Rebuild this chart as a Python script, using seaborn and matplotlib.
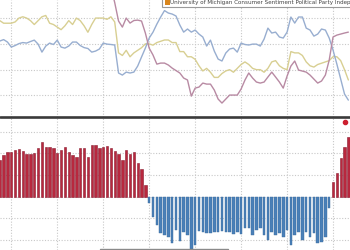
import numpy as np
import pandas as pd
import matplotlib
matplotlib.use("Agg")
import matplotlib.pyplot as plt
from matplotlib.patches import Rectangle
from matplotlib.lines import Line2D
import seaborn as sns

# ---------------- data (monthly index) ----------------
months = list(range(92))

independent = [98, 96, 96, 96, 97, 100, 101, 100, 98, 95, 98, 101, 102, 96, 95, 93, 91, 94, 98, 95,
               100, 98, 94, 89, 95, 100, 100, 100, 99, 101, 97, 73, 71, 75, 70, 73, 75, 77, 80, 80,
               79, 81, 82, 83, 83, 81, 81, 74, 74, 70, 70, 68, 63, 59, 61, 58, 54, 54, 57, 59,
               60, 58, 61, 64, 66, 64, 61, 60, 60, 58, 61, 66, 67, 63, 61, 60, 74, 73, 73, 71,
               66, 63, 62, 64, 65, 66, 67, 70, 70, 67, 60, 52]

democrat = [82.2, 83.3, 81.4, 77.5, 78.7, 80.2, 81.0, 80.6, 81.8, 82.9, 79.8, 73.6, 78.3, 80.6, 79.5,
            82.9, 77.5, 76.7, 78.3, 81.4, 81.4, 78.7, 77.1, 76.4, 73.6, 74.4, 76.0, 80.6, 79.8, 79.5,
            79.1, 57.4, 55.8, 58.1, 57.4, 58.1, 62.8, 69.8, 76.7, 84.5, 89.1, 95.3, 100.8, 105.8, 103.9,
            103.1, 101.6, 94.6, 89.1, 91.5, 89.1, 90.7, 87.6, 85.3, 78.3, 82.9, 74.4, 68.2, 66.7, 72.9,
            76.0, 76.7, 73.6, 80.6, 79.5, 79.1, 79.8, 79.8, 78.3, 83.7, 92.2, 88.4, 89.1, 85.3, 84.5,
            89.1, 100.8, 96.1, 100.8, 100.8, 92.2, 90.7, 86.0, 87.6, 91.5, 90.7, 84.5, 75.2, 64.3, 52.7,
            41.1, 36.4]

republican = [116, 121.8, 122.3, 118.4, 121.8, 124.2, 123.2, 119.7, 120.9, 122.9, 124.4, 123.8, 123.8,
              126.1, 124.1, 122.9, 120.6, 122.2, 119.8, 119.9, 118.3, 123.3, 121.7, 116.0, 121.3, 122.1,
              120.6, 126.8, 126.9, 124.1, 112.0, 97.7, 93.0, 100.0, 96.1, 98.1, 98.4, 97.7, 88.4, 76.7,
              71.3, 64.3, 65.1, 65.1, 63.6, 61.2, 59.3, 57.4, 53.5, 52.0, 39.5, 45.7, 46.5, 49.6, 48.8,
              48.8, 44.2, 37.2, 34.1, 37.2, 40.3, 40.3, 40.3, 45.0, 51.9, 57.4, 53.5, 50.4, 49.6, 50.4,
              54.3, 58.1, 54.3, 50.4, 45.7, 55.0, 62.8, 66.7, 59.7, 58.9, 58.1, 55.8, 52.7, 49.6, 51.2,
              55.8, 67.4, 85.3, 86.8, 87.6, 88.4, 89.1]

spread = [33.8, 38.5, 40.9, 40.9, 43.1, 44.0, 42.2, 39.1, 39.1, 40.0, 44.6, 50.2, 45.5, 45.5, 44.6,
          40.0, 43.1, 45.5, 41.5, 38.5, 36.9, 44.6, 44.6, 36.9, 47.7, 47.7, 44.6, 46.2, 47.1, 44.6,
          42.2, 39.1, 33.8, 43.1, 39.1, 40.9, 30.8, 25.5, 10.8,
          -5.8, -18.5, -26.1, -33.5, -35.4, -36.9, -43.0, -30.7, -41.0, -33.0, -35.0, -48.5, -44.6,
          -31.5, -32.3, -33.3, -33.8, -33.0, -32.3, -31.5, -32.3, -33.0, -34.5, -32.3, -34.0, -29.2,
          -28.5, -35.4, -30.8, -29.2, -35.4, -40.0, -32.3, -35.4, -33.8, -36.9, -30.8, -44.6, -35.4,
          -32.3, -40.0, -32.3, -36.9, -33.8, -43.0, -41.5, -36.9, -10.7,
          14.0, 21.6, 35.4, 46.2, 55.4]

legend_label = "University of Michigan Consumer Sentiment Political Party Independent"

# ---------------- figure ----------------
sns.set_style("white")
W, H = 350, 250
fig = plt.figure(figsize=(W / 100, H / 100), dpi=100)
fig.patch.set_facecolor("white")

ax1 = fig.add_axes([0, 1 - 117 / H, 1, 117 / H])
ax2 = fig.add_axes([0, 0, 1, 1 - 118 / H])

XL = (0.05, 91.43)
vgrid = list(range(3, 92, 12))
grid_kw = dict(color="#c8c8c8", lw=0.8, ls=(0, (1, 1.5)), zorder=0)

# top panel: lines
sns.lineplot(x=months, y=independent, ax=ax1, color="#d8cf92", lw=1.0)
sns.lineplot(x=months, y=democrat, ax=ax1, color="#98aed0", lw=1.0)
sns.lineplot(x=months, y=republican, ax=ax1, color="#b88aa3", lw=1.0)
ax1.set_xlim(*XL)
ax1.set_ylim(23.3, 114)
for v in [40, 60, 80, 100]:
    ax1.axhline(v, **grid_kw)
for v in vgrid:
    ax1.axvline(v, **grid_kw)

# bottom panel: bars
df = pd.DataFrame({"month": months, "spread": spread})
pos = df[df["spread"] >= 0]
neg = df[df["spread"] < 0]
sns.barplot(data=pos, x="month", y="spread", native_scale=True, ax=ax2, color="#b8283e",
            saturation=1, width=0.62, edgecolor="#8a1b30", linewidth=0.4, errorbar=None, zorder=2)
sns.barplot(data=neg, x="month", y="spread", native_scale=True, ax=ax2, color="#4a80b8",
            saturation=1, width=0.66, edgecolor="#3b6c9e", linewidth=0.3, errorbar=None, zorder=2)
ax2.set_xlim(*XL)
ax2.set_ylim(-49.2, 72.7)
for v in [-40, -20, 0, 20, 40, 60]:
    ax2.axhline(v, **grid_kw)
for v in vgrid:
    ax2.axvline(v, **grid_kw)

for ax in (ax1, ax2):
    ax.set_xlabel("")
    ax.set_ylabel("")
    ax.set_xticks([])
    ax.set_yticks([])
    for s in ax.spines.values():
        s.set_visible(False)
    ax.set_facecolor("none")

# separator and decorations
fig.add_artist(Line2D([0, 1], [1 - 117 / H] * 2, transform=fig.transFigure,
                      color="#3a3a3a", lw=1.9))
fig.add_artist(Line2D([100 / W, 228 / W], [1 - 249 / H] * 2, transform=fig.transFigure,
                      color="#8a8a8a", lw=1.0))
fig.add_artist(Line2D([344.5 / W], [1 - 121.5 / H], transform=fig.transFigure,
                      marker="o", ms=3, color="#cc1f2f", lw=0))

# cut-off legend box at top
fig.add_artist(Rectangle((161.5 / W, 1 - 6.5 / H), (W - 161.5 + 5) / W, 10 / H,
                         transform=fig.transFigure, facecolor="white", edgecolor="#9a9a9a", lw=0.8))
fig.add_artist(Rectangle((165 / W, 1 - 5 / H), 4.5 / W, 6 / H, transform=fig.transFigure,
                         facecolor="#d9861c", edgecolor="none"))
fig.text(170.5 / W, 1 - 4.2 / H, legend_label, fontsize=4.1, color="#444444",
         va="baseline", ha="left")

fig.savefig("out.png", dpi=100)
